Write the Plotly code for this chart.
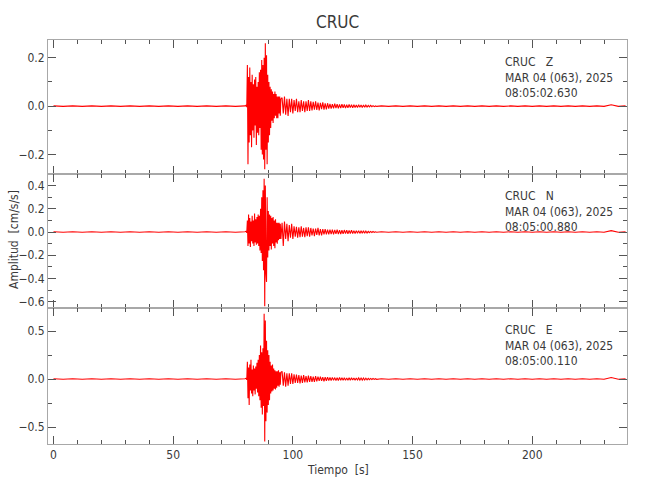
import numpy as np
import plotly.graph_objects as go

# ---------------- data ----------------
station = "CRUC"
components = ["Z", "N", "E"]
start_times = ["08:05:02.630", "08:05:00.880", "08:05:00.110"]
date_label = "MAR 04 (063), 2025"
x_ticks = [0, 50, 100, 150, 200]

# quiet noise before the arrival (t = 0 .. 80 s, every 4 s)
z_pre = [0.001, -0.001, 0.001, -0.001, 0.001, -0.001, 0.001, -0.001, 0.001, -0.001, 0.001,
         -0.001, 0.001, -0.001, 0.001, -0.001, 0.001, -0.001, 0.001, -0.001, 0.001]
n_pre = [0.002, -0.002, 0.002, -0.002, 0.002, -0.002, 0.002, -0.002, 0.002, -0.002, 0.002,
         -0.002, 0.002, -0.002, 0.002, -0.002, 0.002, -0.002, 0.002, -0.002, 0.002]
e_pre = [0.003, -0.003, 0.003, -0.003, 0.003, -0.003, 0.003, -0.003, 0.003, -0.003, 0.003,
         -0.003, 0.003, -0.003, 0.003, -0.003, 0.003, -0.003, 0.003, -0.003, 0.003]

# strong motion (t = 80.5 .. 95 s, every 0.25 s)
z_strong = [0.004, -0.004,
            0.17, -0.24, 0.12, -0.15, 0.16, -0.12, 0.10, -0.17, 0.13, -0.10, 0.09, -0.13,
            0.11, -0.08, 0.12, -0.16, 0.08, -0.11, 0.10, -0.12, 0.14, -0.09, 0.15, -0.18,
            0.19, -0.20, 0.17, -0.22,
            0.20, -0.26, 0.26, -0.18, 0.21, -0.24, 0.13, -0.15, 0.10, -0.12, 0.08, -0.09,
            0.07, -0.06, 0.06, -0.07, 0.05, -0.05, 0.06, -0.04, 0.05, -0.05, 0.04, -0.05,
            0.04, -0.03, 0.04, -0.04, 0.03]
n_strong = [0.006, -0.006,
            0.10, -0.12, 0.15, -0.10, 0.12, -0.13, 0.09, -0.08, 0.14, -0.10, 0.10, -0.12,
            0.16, -0.09, 0.11, -0.11, 0.13, -0.10, 0.15, -0.12, 0.14, -0.16, 0.20, -0.18,
            0.30, -0.25, 0.36, -0.33,
            0.46, -0.64, 0.40, -0.35, -0.43, 0.30, -0.22, 0.18, -0.16, 0.15, -0.12, 0.14,
            -0.15, 0.12, -0.10, 0.13, -0.12, 0.10, -0.14, 0.11, -0.09, 0.08, -0.10, 0.08,
            -0.07, 0.08, -0.06, 0.07, -0.06]
e_strong = [0.008, -0.008,
            0.18, -0.20, 0.12, -0.27, 0.15, -0.12, 0.20, -0.15, 0.10, -0.18, 0.14, -0.12,
            0.11, -0.16, 0.13, -0.10, 0.17, -0.14, 0.20, -0.18, 0.25, -0.22, 0.35, -0.30,
            0.28, -0.37, 0.32, -0.28,
            0.68, -0.65, 0.61, -0.44, 0.40, -0.35, 0.30, -0.27, 0.25, -0.22, 0.18, -0.15,
            0.14, -0.13, 0.15, -0.12, 0.11, -0.10, 0.09, -0.11, 0.08, -0.09, 0.08, -0.07,
            0.09, -0.08, 0.07, -0.06, 0.07]

# coda (t = 95.5 .. 135 s, every 0.5 s)
z_coda = [0.035, -0.03, 0.04, -0.035, 0.03, -0.04, 0.03, -0.025, 0.03, -0.03,
          0.025, -0.02, 0.03, -0.025, 0.02, -0.025, 0.025, -0.02, 0.02, -0.025, 0.02, -0.02,
          0.025, -0.02, 0.02, -0.018,
          0.018, -0.015, 0.02, -0.016, 0.015, -0.018, 0.014, -0.012, 0.016, -0.014, 0.012,
          -0.013, 0.012, -0.01,
          0.009, -0.01, 0.008, -0.009, 0.01, -0.008, 0.008, -0.009, 0.007, -0.008,
          0.008, -0.007, 0.007, -0.008, 0.006, -0.007, 0.007, -0.006, 0.006, -0.007,
          0.006, -0.006, 0.005, -0.006, 0.006, -0.005, 0.005, -0.006, 0.005, -0.005,
          0.004, -0.004, 0.003, -0.003, 0.003, -0.002, 0.002, -0.002, 0.001, -0.001]
n_coda = [0.08, -0.12, 0.09, -0.06, 0.07, -0.08, 0.06, -0.05, 0.07, -0.06,
          0.05, -0.04, 0.045, -0.05, 0.04, -0.045, 0.05, -0.04, 0.035, -0.045, 0.04, -0.035,
          0.04, -0.04, 0.035, -0.03,
          0.03, -0.035, 0.03, -0.025, 0.035, -0.03, 0.025, -0.03, 0.025, -0.02, 0.025,
          -0.02, 0.02, -0.02,
          0.02, -0.018, 0.02, -0.02, 0.018, -0.016, 0.02, -0.018, 0.016, -0.017,
          0.015, -0.016, 0.017, -0.014, 0.015, -0.015, 0.014, -0.013, 0.015, -0.013,
          0.012, -0.013, 0.012, -0.011, 0.012, -0.012, 0.011, -0.01, 0.011, -0.01,
          0.008, -0.008, 0.006, -0.006, 0.005, -0.004, 0.004, -0.003, 0.002, -0.002]
e_coda = [0.08, -0.07, 0.07, -0.08, 0.06, -0.07, 0.06, -0.05, 0.06, -0.05,
          0.05, -0.04, 0.045, -0.04, 0.04, -0.045, 0.035, -0.04, 0.04, -0.035, 0.03, -0.035,
          0.035, -0.03, 0.03, -0.03,
          0.025, -0.03, 0.03, -0.025, 0.025, -0.02, 0.025, -0.02, 0.02, -0.025, 0.02,
          -0.018, 0.02, -0.015,
          0.016, -0.015, 0.017, -0.014, 0.015, -0.016, 0.014, -0.015, 0.015, -0.013,
          0.014, -0.013, 0.013, -0.014, 0.012, -0.013, 0.013, -0.012, 0.012, -0.011,
          0.011, -0.012, 0.011, -0.01, 0.011, -0.011, 0.01, -0.011, 0.01, -0.01,
          0.008, -0.008, 0.007, -0.006, 0.006, -0.005, 0.005, -0.004, 0.003, -0.003]

# quiet tail (t = 137 .. 239 s, every 3 s)
z_post = [0.001, -0.001, 0.001, -0.001, 0.001, -0.001, 0.001, -0.001, 0.001, -0.001,
          0.001, -0.001, 0.001, -0.001, 0.001, -0.001, 0.001, -0.001, 0.001, -0.001,
          0.001, -0.001, 0.001, -0.001, 0.001, -0.001, 0.001, -0.001, 0.001, -0.001,
          0.001, -0.001, 0.006, -0.001, 0.001]
n_post = [0.002, -0.002, 0.002, -0.002, 0.002, -0.002, 0.002, -0.002, 0.002, -0.002,
          0.002, -0.002, 0.002, -0.002, 0.002, -0.002, 0.002, -0.002, 0.002, -0.002,
          0.002, -0.002, 0.002, -0.002, 0.002, -0.002, 0.002, -0.002, 0.002, -0.002,
          0.002, -0.002, 0.012, -0.002, 0.002]
e_post = [0.003, -0.003, 0.003, -0.003, 0.003, -0.003, 0.003, -0.003, 0.003, -0.003,
          0.003, -0.003, 0.003, -0.003, 0.003, -0.003, 0.003, -0.003, 0.003, -0.003,
          0.003, -0.003, 0.003, -0.003, 0.003, -0.003, 0.003, -0.003, 0.003, -0.003,
          0.003, -0.003, 0.015, -0.003, 0.003]

y_ranges = [[-0.28, 0.273], [-0.655, 0.50], [-0.677, 0.74]]
y_dticks = [0.2, 0.2, 0.5]
y_minor = [0.1, 0.1, 0.25]


def build(pre, strong, coda, post):
    t = np.concatenate([
        0.0 + 4.0 * np.arange(len(pre)),
        80.5 + 0.25 * np.arange(len(strong)),
        95.5 + 0.5 * np.arange(len(coda)),
        137.0 + 3.0 * np.arange(len(post)),
    ])
    v = np.array(pre + strong + coda + post)
    return t, v


traces = [build(z_pre, z_strong, z_coda, z_post),
          build(n_pre, n_strong, n_coda, n_post),
          build(e_pre, e_strong, e_coda, e_post)]

# ---------------- figure ----------------
FONT = "Liberation Sans Narrow, DejaVu Sans Condensed, Arial Narrow, sans-serif"
TXT = "#3a3a3a"
FRAME = "#a8a8a8"
TICK = "#555555"

W, H = 650, 500
L, R, T, B = 48, 23, 40, 56
plot_h = H - T - B
plot_w = W - L - R
bounds_px = [(40, 174), (174, 308), (308, 444)]

fig = go.Figure()
layout = dict(
    width=W, height=H,
    margin=dict(l=L, r=R, t=T, b=B, autoexpand=False),
    paper_bgcolor="white", plot_bgcolor="white",
    showlegend=False,
    font=dict(family=FONT, size=12, color=TXT),
)

annotations = []
for i, (t, v) in enumerate(traces):
    k = "" if i == 0 else str(i + 1)
    fig.add_trace(go.Scatter(x=t, y=v, mode="lines",
                             line=dict(color="red", width=1.1),
                             xaxis="x" + k, yaxis="y" + k, hoverinfo="skip"))
    top_px, bot_px = bounds_px[i]
    d0 = (H - B - bot_px) / plot_h
    d1 = (H - B - top_px) / plot_h
    layout["xaxis" + k] = dict(
        domain=[0, 1], anchor="y" + k, range=[-2.3, 239.6], automargin=False,
        tickvals=x_ticks, showticklabels=(i == 2),
        ticks="inside", ticklen=8, tickwidth=1, tickcolor=TICK,
        minor=dict(dtick=10, tick0=0, ticks="inside", ticklen=4, tickcolor=TICK, showgrid=False),
        showline=True, linecolor=FRAME, linewidth=1, mirror="ticks",
        showgrid=False, zeroline=False,
        tickfont=dict(family=FONT, size=12, color=TXT),
    )
    layout["yaxis" + k] = dict(
        domain=[d0, d1], anchor="x" + k, range=y_ranges[i], automargin=False,
        dtick=y_dticks[i], tick0=0, tickformat=".1f",
        ticks="inside", ticklen=8, tickwidth=1, tickcolor=TICK,
        minor=dict(dtick=y_minor[i], tick0=0, ticks="inside", ticklen=4, tickcolor=TICK, showgrid=False),
        showline=True, linecolor=FRAME, linewidth=1, mirror="ticks",
        showgrid=False, zeroline=False,
        tickfont=dict(family=FONT, size=12, color=TXT),
    )
    label = f"{station}   {components[i]}<br>{date_label}<br>{start_times[i]}"
    annotations.append(dict(
        xref="paper", yref="paper", x=(503 - L) / plot_w, y=(H - B - (top_px + 13)) / plot_h,
        xanchor="left", yanchor="top", align="left", showarrow=False,
        text=label, font=dict(family=FONT, size=12, color=TXT),
    ))

annotations.append(dict(xref="paper", yref="paper", x=0.5, y=(H - B - 22) / plot_h,
                        xanchor="center", yanchor="middle", showarrow=False, text=station,
                        font=dict(family=FONT, size=17, color=TXT)))
annotations.append(dict(xref="paper", yref="paper", x=0.5, y=(H - B - 470) / plot_h,
                        xanchor="center", yanchor="middle", showarrow=False, text="Tiempo  [s]",
                        font=dict(family=FONT, size=12, color=TXT)))
annotations.append(dict(xref="paper", yref="paper", x=(14 - L) / plot_w, y=(H - B - 240) / plot_h,
                        xanchor="center", yanchor="middle", showarrow=False, textangle=-90,
                        text="Amplitud  [cm/s/s]",
                        font=dict(family=FONT, size=12, color=TXT)))
layout["annotations"] = annotations
fig.update_layout(**layout)
fig.write_html("out.html",
               config={"displayModeBar": False, "staticPlot": True},
               post_script="document.body.style.margin='0';document.body.style.padding='0';")
